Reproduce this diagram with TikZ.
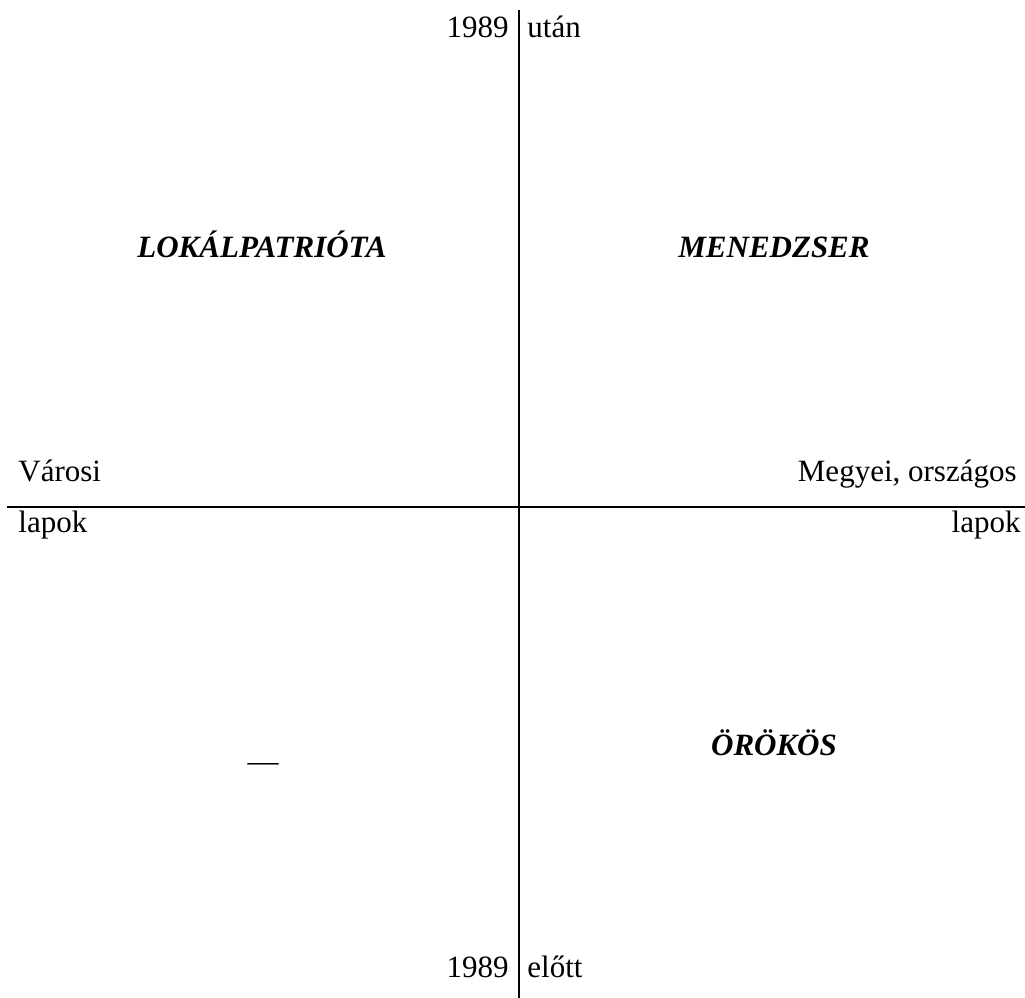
\documentclass[tikz,border=0pt]{standalone}
\usepackage{fontspec}
\setmainfont{Liberation Serif}
\usetikzlibrary{positioning}

\begin{document}
\begin{tikzpicture}[
			x=0.5pt, y=-0.5pt,
			axisline/.style={line width=1pt, draw=black},
			axislabel/.style={inner sep=0pt, font=\fontsize{15.5}{18}\selectfont},
			quadrant/.style={inner sep=0pt, font=\fontsize{15.5}{18}\selectfont\bfseries\itshape}
			]
			\useasboundingbox (0,0) rectangle (1025,998);
			
			% Axes
			\coordinate (top) at (519,10);
			\coordinate (bottom) at (519,998);
			\coordinate (left) at (7,507);
			\coordinate (right) at (1025,507);
			\draw[axisline] (top) -- (bottom);
			\draw[axisline] (left) -- (right);
			
			% Vertical axis labels
			\node[axislabel, anchor=base east] (after1989) at (509,37) {1989};
			\node[axislabel, anchor=base west] (after) at (527,37) {után};
			\node[axislabel, anchor=base east] (before1989) at (509,977) {1989};
			\node[axislabel, anchor=base west] (before) at (527,977) {előtt};
			
			% Horizontal axis labels
			\node[axislabel, anchor=base west] (city) at (18,481) {Városi};
			\node[axislabel, anchor=base west] (citypapers) at (18,532) {lapok};
			\node[axislabel, anchor=base east] (county) at (1017,481) {Megyei, országos};
			\node[axislabel, anchor=base east] (countypapers) at (1021,532) {lapok};
			
			% Quadrants
			\node[quadrant, anchor=base] (local) at (262,257) {LOKÁLPATRIÓTA};
			\node[quadrant, anchor=base] (manager) at (774,257) {MENEDZSER};
			\node[quadrant, anchor=base] (heir) at (774,755) {ÖRÖKÖS};
			\node[axislabel, anchor=base] (none) at (263,771) {—};
			
		\end{tikzpicture}
\end{document}
